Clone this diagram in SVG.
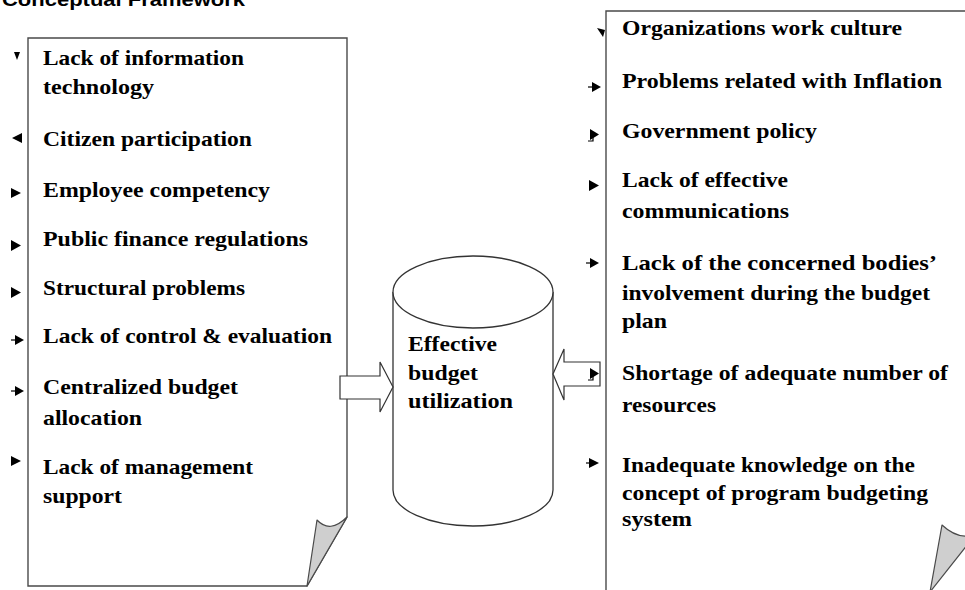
<svg xmlns="http://www.w3.org/2000/svg" width="965" height="590" viewBox="0 0 965 590">
<style>
.doc{fill:#fff;stroke:#4a4a4a;stroke-width:1.4}
.curl{fill:#cfcfcf;stroke:#4a4a4a;stroke-width:1.2;stroke-linejoin:round}
.cyl{fill:#fff;stroke:#333;stroke-width:1.3}
.blk{fill:#fff;stroke:#333;stroke-width:1.2}
.t{font-family:"Liberation Serif","Times New Roman",serif;font-weight:bold;font-size:22px;fill:#000}
.ttl{font-family:"Liberation Sans",Arial,sans-serif;font-weight:bold;font-size:18px;fill:#000}
.b{fill:#000;stroke:none}
.bl{stroke:#000;stroke-width:1.2;fill:none}
</style>
<rect width="965" height="590" fill="#fff"/>
<text class="ttl" x="2" y="6" textLength="243" lengthAdjust="spacingAndGlyphs">Conceptual Framework</text>

<g id="left-doc">
<path class="doc" d="M28,38 H347 V517 L307,586 H28 Z"/>
<path class="curl" d="M347,517 L307,586 L317,520 Q330,534 347,517 Z"/>
<text class="t" x="43" y="65" textLength="201" lengthAdjust="spacingAndGlyphs">Lack of information</text>
<text class="t" x="43" y="94" textLength="111" lengthAdjust="spacingAndGlyphs">technology</text>
<text class="t" x="43" y="146" textLength="209" lengthAdjust="spacingAndGlyphs">Citizen participation</text>
<text class="t" x="43" y="197" textLength="227" lengthAdjust="spacingAndGlyphs">Employee competency</text>
<text class="t" x="43" y="246" textLength="265" lengthAdjust="spacingAndGlyphs">Public finance regulations</text>
<text class="t" x="43" y="295" textLength="202" lengthAdjust="spacingAndGlyphs">Structural problems</text>
<text class="t" x="43" y="343" textLength="289" lengthAdjust="spacingAndGlyphs">Lack of control &amp; evaluation</text>
<text class="t" x="43" y="394" textLength="195" lengthAdjust="spacingAndGlyphs">Centralized budget</text>
<text class="t" x="43" y="425" textLength="99" lengthAdjust="spacingAndGlyphs">allocation</text>
<text class="t" x="43" y="474" textLength="210" lengthAdjust="spacingAndGlyphs">Lack of management</text>
<text class="t" x="43" y="503" textLength="79" lengthAdjust="spacingAndGlyphs">support</text>
<path class="b" d="M14,52 L20,52 L17,60 Z"/>
<path class="b" d="M22,133 L12,138 L22,143 Z"/>
<path class="b" d="M11,188 L21,193 L11,198 Z"/>
<path class="b" d="M11,240 L21,245.5 L11,251 Z"/>
<path class="b" d="M11,287 L21,292.5 L11,298 Z"/>
<path class="b" d="M15,335 L24,340 L15,345 Z"/><path class="bl" d="M11,340 H18"/>
<path class="b" d="M15,386 L24,391 L15,396 Z"/><path class="bl" d="M11,391 H18"/>
<path class="b" d="M11,456 L21,461 L11,466 Z"/>
</g>

<g id="right-doc">
<path class="doc" d="M606,11 H975 V600 H606 Z"/>
<path class="curl" d="M975,535 L930,592 L942,525 Q958,540 975,535 Z"/>
<text class="t" x="622" y="35" textLength="280" lengthAdjust="spacingAndGlyphs">Organizations work culture</text>
<text class="t" x="622" y="88" textLength="320" lengthAdjust="spacingAndGlyphs">Problems related with Inflation</text>
<text class="t" x="622" y="138" textLength="195" lengthAdjust="spacingAndGlyphs">Government policy</text>
<text class="t" x="622" y="187" textLength="166" lengthAdjust="spacingAndGlyphs">Lack of effective</text>
<text class="t" x="622" y="218" textLength="167" lengthAdjust="spacingAndGlyphs">communications</text>
<text class="t" x="622" y="270" textLength="315" lengthAdjust="spacingAndGlyphs">Lack of the concerned bodies’</text>
<text class="t" x="622" y="300" textLength="308" lengthAdjust="spacingAndGlyphs">involvement during the budget</text>
<text class="t" x="622" y="328" textLength="45" lengthAdjust="spacingAndGlyphs">plan</text>
<text class="t" x="622" y="380" textLength="326" lengthAdjust="spacingAndGlyphs">Shortage of adequate number of</text>
<text class="t" x="622" y="412" textLength="94" lengthAdjust="spacingAndGlyphs">resources</text>
<text class="t" x="622" y="472" textLength="293" lengthAdjust="spacingAndGlyphs">Inadequate knowledge on the</text>
<text class="t" x="622" y="500" textLength="306" lengthAdjust="spacingAndGlyphs">concept of program budgeting</text>
<text class="t" x="622" y="526" textLength="70" lengthAdjust="spacingAndGlyphs">system</text>
<path class="b" d="M597,28 L605,30 L603,37 Z"/>
<path class="b" d="M592,82 L601,87 L592,92 Z"/><path class="bl" d="M588,87 H595"/>
<path class="b" d="M590,129 L599,134.5 L590,140 Z"/><path class="bl" d="M588,141 H593 V137"/>
<path class="b" d="M589,180 L599,185.5 L589,191 Z"/>
<path class="b" d="M590,258 L599,263 L590,268 Z"/><path class="bl" d="M586,263 H593"/>
</g>

<g id="cylinder">
<path class="cyl" d="M393,292 V490 A80,36 0 0 0 553,490 V292"/>
<ellipse class="cyl" cx="473" cy="292" rx="80" ry="36"/>
<text class="t" x="408" y="351" textLength="89" lengthAdjust="spacingAndGlyphs">Effective</text>
<text class="t" x="408" y="380" textLength="70" lengthAdjust="spacingAndGlyphs">budget</text>
<text class="t" x="408" y="408" textLength="105" lengthAdjust="spacingAndGlyphs">utilization</text>
</g>

<g id="connectors">
<path class="blk" d="M340,376 H380 V362 L393,387 L380,412 V399 H340 Z"/>
<path class="blk" d="M600,362 H564 V349 L553,374 L564,400 V386 H600 Z"/>
<path class="b" d="M590,368 L599,373.5 L590,379 Z"/><path class="bl" d="M588,380 H593 V376"/>
<path class="b" d="M589,458 L599,463 L589,468 Z"/><path class="bl" d="M586,463 H592"/>
</g>
</svg>
